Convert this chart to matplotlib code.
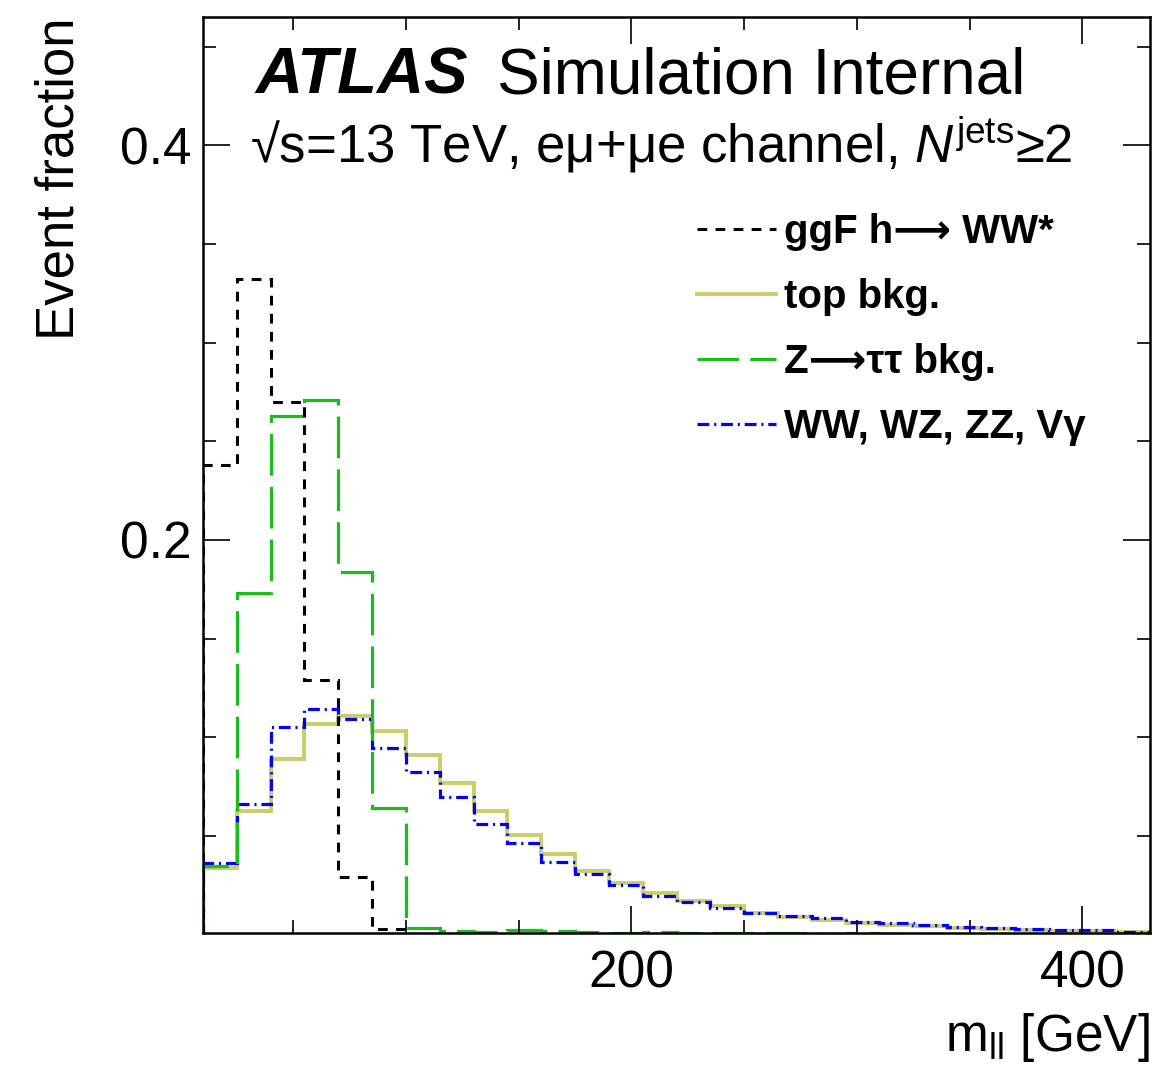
import numpy as np
import matplotlib
matplotlib.use('Agg')
import matplotlib.pyplot as plt
from matplotlib.lines import Line2D
from matplotlib.ticker import MultipleLocator, FixedLocator

plt.rcParams['font.family'] = ['Liberation Sans', 'DejaVu Sans']
plt.rcParams['mathtext.fontset'] = 'custom'
plt.rcParams['mathtext.rm'] = 'Liberation Sans'
plt.rcParams['mathtext.it'] = 'Liberation Sans:italic'
plt.rcParams['mathtext.bf'] = 'Liberation Sans:bold'
plt.rcParams['lines.scale_dashes'] = False

# m_ll bins, 15 GeV wide
edges = np.arange(10, 445, 15)

ggf = [0.238, 0.332, 0.270, 0.129, 0.029, 0.003, 0, 0, 0, 0,
       0, 0, 0, 0, 0, 0, 0, 0, 0, 0,
       0, 0, 0, 0, 0, 0, 0, 0]
top = [0.0337, 0.0627, 0.0889, 0.1069, 0.1107, 0.1034, 0.0909, 0.0767, 0.0628, 0.0507,
       0.0409, 0.0325, 0.0262, 0.0213, 0.0171, 0.0143, 0.0110, 0.0089, 0.0075, 0.0061,
       0.0051, 0.0045, 0.0036, 0.0028, 0.0024, 0.0021, 0.0019, 0.0014]
ztt = [0.035, 0.173, 0.263, 0.271, 0.184, 0.064, 0.0036, 0.0018, 0.0015, 0.0022,
       0.0020, 0.0012, 0.0010, 0.0012, 0.0008, 0.0010, 0.0006, 0.0008, 0.0005, 0.0006,
       0.0004, 0.0005, 0.0003, 0.0004, 0.0003, 0.0003, 0.0002, 0.0002]
diboson = [0.0362, 0.0664, 0.1054, 0.1142, 0.1093, 0.0948, 0.0826, 0.0700, 0.0560, 0.0467,
           0.0367, 0.0308, 0.0251, 0.0198, 0.0165, 0.0137, 0.0110, 0.0097, 0.0082, 0.0066,
           0.0058, 0.0048, 0.0039, 0.0036, 0.0029, 0.0024, 0.0022, 0.0016]

labels = ['ggF h\u27f6 WW*', 'top bkg.', 'Z\u27f6ττ bkg.', 'WW, WZ, ZZ, Vγ']

W, H = 1158, 1075
fig = plt.figure(figsize=(W / 100, H / 100), dpi=100)
ax = fig.add_axes([203 / W, (H - 932.7) / H, (1150 - 203) / W, (932.7 - 17) / H])

sty_ggf = dict(color='black', lw=2.2, ls=(0, (7, 6)))
sty_top = dict(color='#cccc6a', lw=2.8, ls='-')
sty_ztt = dict(color='#1dbb1d', lw=2.3, ls=(0, (30, 8)))
sty_vv = dict(color='#0000ff', lw=2.3, ls=(0, (8.5, 3.5, 1.5, 3.5)))

ax.stairs(top, edges, **sty_top)
ax.stairs(diboson, edges, **sty_vv)
ax.stairs(ztt, edges, **sty_ztt)
ax.stairs(ggf, edges, **sty_ggf)

ax.set_xlim(10, 430)
ax.set_ylim(0.001, 0.465)

ax.xaxis.set_major_locator(FixedLocator([200, 400]))
ax.xaxis.set_minor_locator(MultipleLocator(50))
ax.yaxis.set_major_locator(FixedLocator([0.2, 0.4]))
ax.yaxis.set_minor_locator(MultipleLocator(0.05))
ax.tick_params(which='both', direction='in', top=True, right=True, width=1.2, labelsize=37)
ax.tick_params(which='major', length=19.5)
ax.tick_params(which='minor', length=9.5)
ax.tick_params(axis='x', pad=12)
ax.tick_params(axis='y', pad=8)
for s in ax.spines.values():
    s.set_linewidth(1.8)

ax.set_ylabel('Event fraction', fontsize=38, loc='top')
ax.yaxis.set_label_coords(-0.125, 1.0)
ax.set_xlabel(r'm$_{\mathrm{ll}}$ [GeV]', fontsize=37, loc='right')
ax.xaxis.set_label_coords(1.0, -0.085)

ax.text(0.055, 0.917, 'ATLAS', transform=ax.transAxes, fontsize=47,
        fontweight='bold', fontstyle='italic', va='baseline')
ax.text(0.31, 0.917, 'Simulation Internal', transform=ax.transAxes, fontsize=46,
        va='baseline')
ax.text(0.05, 0.8406,
        '\u221as=13 TeV, eμ+μe channel, ' + r'$N^{\mathrm{jets}}$' + '\u22652',
        transform=ax.transAxes, fontsize=38, va='baseline')

handles = [Line2D([], [], **sty_ggf), Line2D([], [], **sty_top),
           Line2D([], [], **sty_ztt), Line2D([], [], **sty_vv)]
ax.legend(handles, labels, loc='upper left', bbox_to_anchor=((697 - 203) / 947, (932.7 - 213) / 915.7),
          frameon=False, prop=dict(weight='bold', size=29), handlelength=1.95,
          handletextpad=0.2, labelspacing=0.67, borderpad=0, borderaxespad=0)

fig.savefig('out.png', dpi=100)
